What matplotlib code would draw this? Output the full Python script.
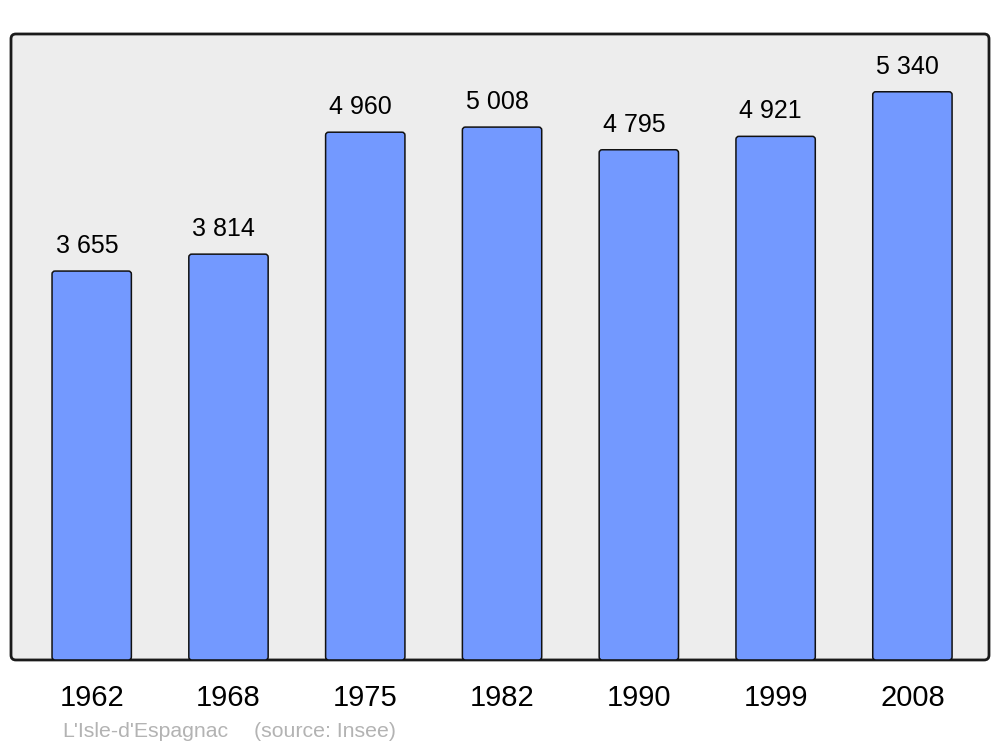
import matplotlib.pyplot as plt
from matplotlib.patches import FancyBboxPatch

# Population of L'Isle-d'Espagnac (source: Insee)
years = ['1962', '1968', '1975', '1982', '1990', '1999', '2008']
population = [3655, 3814, 4960, 5008, 4795, 4921, 5340]

plt.rcParams['font.family'] = ['Liberation Sans', 'DejaVu Sans']

fig = plt.figure(figsize=(10, 7.47), dpi=100)
ax = fig.add_axes([0.011, 0.1165, 0.978, 0.838])

# rounded frame instead of plain spines
frame = FancyBboxPatch((0, 0), 1, 1, boxstyle='round,pad=0,rounding_size=0.005',
                       mutation_aspect=978 / 626, transform=ax.transAxes,
                       facecolor='#ededed', edgecolor='#1a1a1a', linewidth=2.0,
                       zorder=0, clip_on=False)
ax.add_patch(frame)
ax.patch.set_visible(False)
for s in ax.spines.values():
    s.set_visible(False)

ax.set_xlim(-0.59, 6.56)
ax.set_ylim(0, 5883)

x = range(len(years))
bars = ax.bar(x, population, width=0.58, color='#7399ff', edgecolor='#111111',
              linewidth=1.1, zorder=2)

# swap the square bars for rounded ones with the same geometry
px_x = 978 / (6.56 + 0.59)   # pixels per x unit
px_y = 626 / 5883            # pixels per y unit
for b in bars:
    rb = FancyBboxPatch((b.get_x(), b.get_y()), b.get_width(), b.get_height(),
                        boxstyle='round,pad=0,rounding_size=%f' % (3 / px_x),
                        mutation_aspect=px_x / px_y,
                        facecolor=b.get_facecolor(), edgecolor=b.get_edgecolor(),
                        linewidth=1.1, zorder=2)
    ax.add_patch(rb)
    b.set_visible(False)

for xi, v in zip(x, population):
    label = f'{v:,}'.replace(',', ' ')
    ax.annotate(label, (xi, v), xytext=(-3.5, 13), textcoords='offset points',
                ha='center', va='baseline', fontsize=18)

ax.set_xticks(list(x))
ax.set_xticklabels(years, fontsize=21)
ax.tick_params(axis='x', length=0, pad=17)
ax.set_yticks([])

fig.text(0.062, 0.013, "L'Isle-d'Espagnac", color='#b3b3b3', fontsize=15.3, va='baseline')
fig.text(0.254, 0.013, '(source: Insee)', color='#b3b3b3', fontsize=15.3, va='baseline')

fig.savefig('out.png', dpi=100)
